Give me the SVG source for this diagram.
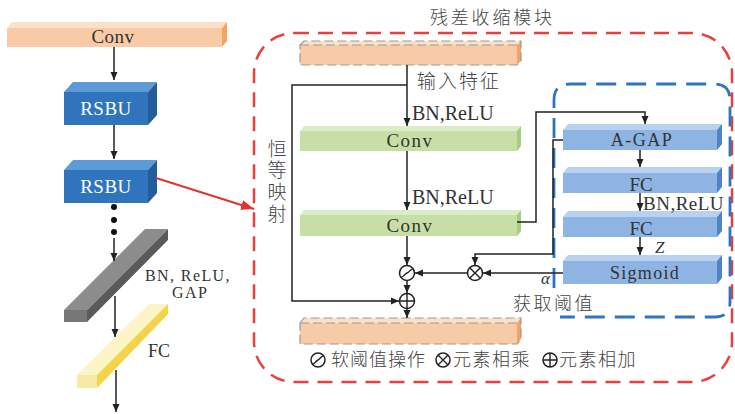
<svg xmlns="http://www.w3.org/2000/svg" width="735" height="414" viewBox="0 0 735 414">
<style>
.serif{font-family:"Liberation Serif","Times New Roman",serif;fill:#333}
.cjk{font-family:"Noto Sans CJK SC","Noto Sans",sans-serif;fill:#444;font-weight:300}
.ln{fill:none;stroke:#222;stroke-width:1.5}
.ar{marker-end:url(#ah)}
.pfront{fill:#F8CBA6}.ptop{fill:#FBE0CA}.pside{fill:#F2A462}
.gfront{fill:#C7DFA6}.gtop{fill:#DCECC6}.gside{fill:#A6CC80}
.bfront{fill:#8DB4E2}.btop{fill:#B9D1EF}.bside{fill:#4F84C4}
.rfront{fill:#2F74BD}.rtop{fill:#5C9BD8}.rside{fill:#245C9C}
.dash{fill:none;stroke:#9a9a9a;stroke-width:1.2;stroke-dasharray:9 4}
.sym{fill:#fff;stroke:#222;stroke-width:1.5}
</style>
<defs>
<marker id="ah" markerWidth="8" markerHeight="8" refX="8" refY="4" orient="auto" markerUnits="userSpaceOnUse"><path d="M0,0.5 L8,4 L0,7.5 Z" fill="#222"/></marker>
<marker id="rah" markerWidth="13" markerHeight="10" refX="13" refY="5" orient="auto" markerUnits="userSpaceOnUse"><path d="M0,0 L13,5 L0,10 Z" fill="#E8312F"/></marker>
</defs>
<rect width="735" height="414" fill="#fff"/>

<!-- containers -->
<g id="module-frame">
<rect x="254" y="33" width="478" height="349" rx="40" fill="none" stroke="#E8403F" stroke-width="2.5" stroke-dasharray="15 9"/>
<text class="cjk" x="430" y="24" font-size="18" letter-spacing="2.8">残差收缩模块</text>
</g>
<g id="threshold-frame">
<path d="M554,288 V100 Q554,84 570,84 H714 Q730,84 730,100 V302 Q730,317 715,317 H560" fill="none" stroke="#2E75C0" stroke-width="2.8" stroke-dasharray="20 10"/>
<text class="cjk" x="513" y="310" font-size="18" letter-spacing="2.5">获取阈值</text>
</g>

<!-- left column -->
<g id="conv-left">
<rect class="pfront" x="7" y="28" width="215" height="19"/>
<polygon class="ptop" points="7,28 12,22 227,22 222,28"/>
<polygon class="pside" points="222,28 227,22 227,41 222,47"/>
<text class="serif" x="113" y="43" font-size="19" text-anchor="middle" letter-spacing="0.5">Conv</text>
</g>
<g id="rsbu1">
<rect class="rfront" x="64" y="92" width="84" height="33"/>
<polygon class="rtop" points="64,92 73,82 157,82 148,92"/>
<polygon class="rside" points="148,92 157,82 157,115 148,125"/>
<text class="serif" x="106" y="115" font-size="19" text-anchor="middle" style="fill:#fff" letter-spacing="0.5">RSBU</text>
</g>
<g id="rsbu2">
<rect class="rfront" x="64" y="170" width="84" height="33"/>
<polygon class="rtop" points="64,170 73,160 157,160 148,170"/>
<polygon class="rside" points="148,170 157,160 157,193 148,203"/>
<text class="serif" x="106" y="193" font-size="19" text-anchor="middle" style="fill:#fff" letter-spacing="0.5">RSBU</text>
</g>
<g id="gap-bar">
<polygon fill="#8C8C8C" points="64,310 145,229 168,229 87,310"/>
<polygon fill="#5A5A5A" points="87,310 168,229 168,240 87,322"/>
<polygon fill="#777" points="64,310 87,310 87,322 64,322"/>
<text class="serif" font-size="16" letter-spacing="1.4"><tspan x="145" y="280.5">BN, ReLU,</tspan><tspan x="172" y="298">GAP</tspan></text>
</g>
<g id="fc-bar">
<polygon fill="#FBF4C6" points="77,375 149,304 168,304 97,375"/>
<polygon fill="#F3D348" points="97,375 168,304 168,314 97,388"/>
<polygon fill="#F7EAA8" points="77,375 97,375 97,388 77,388"/>
<text class="serif" x="148" y="357" font-size="18">FC</text>
</g>

<!-- residual module -->
<g id="input-feature">
<rect class="pfront" x="300" y="45" width="217" height="20"/>
<polygon class="ptop" points="300,45 304,41 521,41 517,45"/>
<polygon class="pside" points="517,45 521,41 521,61 517,65"/>
<path class="dash" d="M300,45 L304,41 H521 V61 L517,65 H300 Z M300,45 H517"/>
<text class="cjk" x="417" y="88" font-size="19" letter-spacing="2">输入特征</text>
</g>
<g id="conv1">
<rect class="gfront" x="300" y="131" width="217" height="20"/>
<polygon class="gtop" points="300,131 304,126 521,126 517,131"/>
<polygon class="gside" points="517,131 521,126 521,146 517,151"/>
<text class="serif" x="410" y="147" font-size="19" text-anchor="middle" letter-spacing="1.5">Conv</text>
</g>
<g id="conv2">
<rect class="gfront" x="300" y="215" width="217" height="21"/>
<polygon class="gtop" points="300,215 304,210 521,210 517,215"/>
<polygon class="gside" points="517,215 521,210 521,231 517,236"/>
<text class="serif" x="410" y="232" font-size="19" text-anchor="middle" letter-spacing="1.5">Conv</text>
</g>
<g id="output-feature">
<rect class="pfront" x="300" y="323" width="217" height="21"/>
<polygon class="ptop" points="300,323 304,318 521,318 517,323"/>
<polygon class="pside" points="517,323 521,318 521,339 517,344"/>
<path class="dash" d="M300,323 L304,318 H521 V339 L517,344 H300 Z M300,323 H517"/>
</g>
<g id="identity-label">
<text class="cjk" x="277" y="139" font-size="19" style="writing-mode:vertical-rl" letter-spacing="2.7">恒等映射</text>
</g>
<g id="bn-relu-labels">
<text class="serif" x="412" y="120" font-size="20">BN,ReLU</text>
<text class="serif" x="412" y="204" font-size="20">BN,ReLU</text>
</g>

<!-- threshold branch -->
<g id="agap">
<rect class="bfront" x="563" y="130" width="154" height="20"/>
<polygon class="btop" points="563,130 568,124 722,124 717,130"/>
<polygon class="bside" points="717,130 722,124 722,144 717,150"/>
<text class="serif" x="642" y="146" font-size="18" text-anchor="middle" letter-spacing="1.5">A-GAP</text>
</g>
<g id="fc1">
<rect class="bfront" x="563" y="173" width="154" height="20"/>
<polygon class="btop" points="563,173 568,167 722,167 717,173"/>
<polygon class="bside" points="717,173 722,167 722,187 717,193"/>
<text class="serif" x="641" y="191" font-size="19" text-anchor="middle">FC</text>
</g>
<g id="fc2">
<rect class="bfront" x="563" y="217" width="154" height="20"/>
<polygon class="btop" points="563,217 568,211 722,211 717,217"/>
<polygon class="bside" points="717,217 722,211 722,231 717,237"/>
<text class="serif" x="641" y="235" font-size="19" text-anchor="middle">FC</text>
</g>
<g id="sigmoid">
<rect class="bfront" x="563" y="261" width="154" height="23"/>
<polygon class="btop" points="563,261 568,255 722,255 717,261"/>
<polygon class="bside" points="717,261 722,255 722,278 717,284"/>
<text class="serif" x="645" y="279" font-size="18" text-anchor="middle" letter-spacing="1.3">Sigmoid</text>
</g>
<g id="branch-labels">
<text class="serif" x="643" y="210" font-size="19" letter-spacing="0.5">BN,ReLU</text>
<text class="serif" x="655" y="253" font-size="17" font-style="italic">Z</text>
<text class="serif" x="541" y="284" font-size="17" font-style="italic">α</text>
</g>

<!-- connectors -->
<g id="connectors">
<line class="ln ar" x1="114" y1="47" x2="114" y2="80"/>
<line class="ln ar" x1="114" y1="125" x2="114" y2="159"/>
<circle cx="114" cy="207" r="3" fill="#111"/>
<circle cx="114" cy="220" r="3" fill="#111"/>
<circle cx="114" cy="232" r="3" fill="#111"/>
<line class="ln ar" x1="114" y1="238" x2="114" y2="261"/>
<line class="ln ar" x1="115" y1="296" x2="115" y2="337"/>
<line class="ln ar" x1="116" y1="370" x2="116" y2="412"/>
<line x1="156" y1="178" x2="254" y2="209" stroke="#E8312F" stroke-width="2" marker-end="url(#rah)"/>

<line class="ln ar" x1="407" y1="65" x2="407" y2="126"/>
<polyline class="ln ar" points="407,85 292,85 292,301 399,301"/>
<line class="ln ar" x1="407" y1="151" x2="407" y2="210"/>
<line class="ln ar" x1="407" y1="236" x2="407" y2="265"/>
<line class="ln ar" x1="407" y1="281" x2="407" y2="293"/>
<line class="ln ar" x1="407" y1="309" x2="407" y2="318"/>
<polyline class="ln ar" points="517,222 536,222 536,112 645,112 645,124"/>
<polyline class="ln ar" points="563,140 553,140 553,254 475,254 475,265"/>
<line class="ln ar" x1="563" y1="273" x2="483" y2="273"/>
<line class="ln ar" x1="467" y1="273" x2="415" y2="273"/>
<line class="ln ar" x1="640" y1="150" x2="640" y2="167"/>
<line class="ln ar" x1="640" y1="193" x2="640" y2="211"/>
<line class="ln ar" x1="640" y1="237" x2="640" y2="255"/>
</g>

<!-- operators -->
<g id="soft-threshold">
<circle class="sym" cx="407" cy="273" r="7.5"/>
<path d="M400.5,277 C403,278 404,274 407,273 C410,272 411,268 413.5,269" fill="none" stroke="#222" stroke-width="1.4"/>
</g>
<g id="multiply">
<circle class="sym" cx="475" cy="273" r="7.5"/>
<path d="M469.7,267.7 L480.3,278.3 M480.3,267.7 L469.7,278.3" stroke="#222" stroke-width="1.4"/>
</g>
<g id="add">
<circle class="sym" cx="407" cy="301" r="7.5"/>
<path d="M399.5,301 H414.5 M407,293.5 V308.5" stroke="#222" stroke-width="1.4"/>
</g>

<!-- legend -->
<g id="legend">
<circle class="sym" cx="318" cy="360" r="7"/>
<path d="M312,364 C314.5,365 315.5,361 318,360 C320.5,359 321.5,355 324,356" fill="none" stroke="#222" stroke-width="1.4"/>
<text class="cjk" x="331" y="366" font-size="18" letter-spacing="1">软阈值操作</text>
<circle class="sym" cx="443" cy="360" r="7"/>
<path d="M438,355 L448,365 M448,355 L438,365" stroke="#222" stroke-width="1.4"/>
<text class="cjk" x="453" y="366" font-size="18" letter-spacing="1.5">元素相乘</text>
<circle class="sym" cx="550" cy="360" r="7"/>
<path d="M543,360 H557 M550,353 V367" stroke="#222" stroke-width="1.4"/>
<text class="cjk" x="559" y="366" font-size="18" letter-spacing="1.5">元素相加</text>
</g>
</svg>
